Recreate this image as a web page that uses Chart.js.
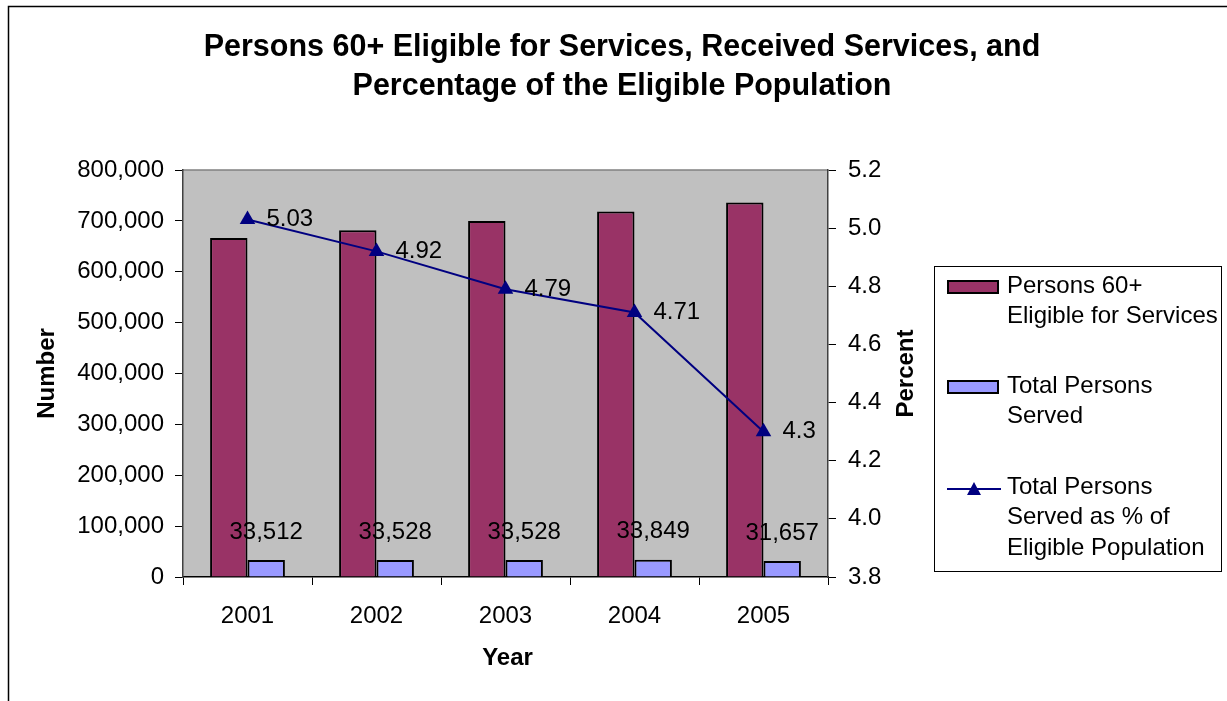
<!DOCTYPE html>
<html>
<head>
<meta charset="utf-8">
<title>Persons 60+ Eligible for Services</title>
<script src="https://cdn.jsdelivr.net/npm/chart.js@4/dist/chart.umd.min.js"></script>
<style>
  html, body { margin: 0; padding: 0; background: #fff; }
  canvas { display: block; }
</style>
</head>
<body>
<canvas id="graphique" width="1227" height="701"></canvas>
<script>
// --- DONNÉES ---
const annees = ['2001', '2002', '2003', '2004', '2005'];
const eligibles = [666242, 681463, 699958, 718662, 736209];
const servis = [33512, 33528, 33528, 33849, 31657];
const pourcentages = [5.03, 4.92, 4.79, 4.71, 4.3];

const titreLignes = ['Persons 60+ Eligible for Services, Received Services, and',
                     'Percentage of the Eligible Population'];
const legendeEligibles = ['Persons 60+', 'Eligible for Services'];
const legendeServis = ['Total Persons', 'Served'];
const legendePourcent = ['Total Persons', 'Served as % of', 'Eligible Population'];

const POLICE = '"Liberation Sans", Arial, sans-serif';
const couleurs = { bordeaux: '#993366', lavande: '#9999ff', marine: '#000080', fond: '#c0c0c0' };

// --- DÉCOR : cadre, fond gris, titres, étiquettes, légende ---
const decor = {
    id: 'decor',
    beforeDraw(chart) {
        const { ctx, chartArea: a } = chart;
        ctx.save();
        ctx.fillStyle = '#fff';
        ctx.fillRect(0, 0, chart.width, chart.height);
        ctx.strokeStyle = '#000';
        ctx.lineWidth = 1.5;
        ctx.beginPath();
        ctx.moveTo(8.5, chart.height);
        ctx.lineTo(8.5, 6.5);
        ctx.lineTo(chart.width, 6.5);
        ctx.stroke();
        ctx.fillStyle = couleurs.fond;
        ctx.fillRect(a.left, a.top, a.right - a.left, a.bottom - a.top);
        ctx.strokeStyle = '#808080';
        ctx.lineWidth = 1.5;
        ctx.beginPath();
        ctx.moveTo(a.left, a.top);
        ctx.lineTo(a.right, a.top);
        ctx.stroke();
        ctx.restore();
    },
    afterDatasetsDraw(chart) {
        const { ctx } = chart;
        ctx.save();
        ctx.fillStyle = '#000';
        ctx.font = '24px ' + POLICE;
        ctx.textBaseline = 'middle';

        // valeurs du pourcentage, à droite des triangles
        const ligne = chart.getDatasetMeta(0);
        ctx.textAlign = 'left';
        ligne.data.forEach((pt, i) => ctx.fillText(String(pourcentages[i]), pt.x + 19, pt.y));

        // nombre de personnes servies, au-dessus des barres bleues
        const barres = chart.getDatasetMeta(2);
        ctx.textAlign = 'center';
        barres.data.forEach((b, i) => ctx.fillText(servis[i].toLocaleString('en-US'), b.x, b.y - 28));
        ctx.restore();
    },
    afterDraw(chart) {
        const { ctx, chartArea: a } = chart;
        ctx.save();
        ctx.fillStyle = '#000';
        ctx.textBaseline = 'middle';
        ctx.textAlign = 'center';

        // titre
        ctx.font = 'bold 30.5px ' + POLICE;
        ctx.fillText(titreLignes[0], 622, 48);
        ctx.fillText(titreLignes[1], 622, 87);

        // titres des axes
        ctx.font = 'bold 24px ' + POLICE;
        ctx.fillText('Year', (a.left + a.right) / 2 + 2, 658);
        const milieu = (a.top + a.bottom) / 2;
        [['Number', 47], ['Percent', 906]].forEach(([txt, x]) => {
            ctx.save();
            ctx.translate(x, milieu);
            ctx.rotate(-Math.PI / 2);
            ctx.fillText(txt, 0, 0);
            ctx.restore();
        });

        // légende
        ctx.strokeStyle = '#000';
        ctx.lineWidth = 1;
        ctx.strokeRect(934.5, 266.5, 287, 305);
        ctx.font = '24px ' + POLICE;
        ctx.textAlign = 'left';
        const entrees = [
            { lignes: legendeEligibles, y: 286, type: 'barre', couleur: couleurs.bordeaux },
            { lignes: legendeServis, y: 386, type: 'barre', couleur: couleurs.lavande },
            { lignes: legendePourcent, y: 487, type: 'ligne', couleur: couleurs.marine }
        ];
        entrees.forEach(e => {
            if (e.type === 'barre') {
                ctx.fillStyle = e.couleur;
                ctx.fillRect(948, e.y - 5, 50, 12);
                ctx.strokeStyle = '#000';
                ctx.lineWidth = 2;
                ctx.strokeRect(948, e.y - 5, 50, 12);
            } else {
                ctx.strokeStyle = e.couleur;
                ctx.lineWidth = 2;
                ctx.beginPath();
                ctx.moveTo(947, e.y + 2);
                ctx.lineTo(1001, e.y + 2);
                ctx.stroke();
                ctx.fillStyle = e.couleur;
                ctx.beginPath();
                ctx.moveTo(974, e.y - 5);
                ctx.lineTo(981, e.y + 8);
                ctx.lineTo(967, e.y + 8);
                ctx.closePath();
                ctx.fill();
            }
            ctx.fillStyle = '#000';
            e.lignes.forEach((l, k) => ctx.fillText(l, 1007, e.y + k * 30.5));
        });
        ctx.restore();
    }
};

// --- GRAPHIQUE ---
const config = {
    type: 'bar',
    data: {
        labels: annees,
        datasets: [
            {
                type: 'line',
                label: 'Total Persons Served as % of Eligible Population',
                data: pourcentages,
                yAxisID: 'y1',
                borderColor: couleurs.marine,
                backgroundColor: couleurs.marine,
                borderWidth: 2,
                pointStyle: 'triangle',
                pointRadius: 9,
                pointBorderWidth: 0,
                tension: 0,
                order: 0
            },
            {
                label: 'Persons 60+ Eligible for Services',
                data: eligibles,
                yAxisID: 'y',
                backgroundColor: couleurs.bordeaux,
                borderColor: '#000',
                borderWidth: 2,
                order: 1
            },
            {
                label: 'Total Persons Served',
                data: servis,
                yAxisID: 'y',
                backgroundColor: couleurs.lavande,
                borderColor: '#000',
                borderWidth: 2,
                order: 2
            }
        ]
    },
    options: {
        responsive: false,
        animation: false,
        layout: { padding: { left: 30, right: 299, top: 170, bottom: 64 } },
        datasets: { bar: { categoryPercentage: 0.58, barPercentage: 1 } },
        plugins: {
            legend: { display: false },
            title: { display: false },
            tooltip: { enabled: false }
        },
        scales: {
            x: {
                grid: { drawOnChartArea: false, tickLength: 8, color: '#000', lineWidth: 1 },
                border: { color: '#000', width: 1.5 },
                ticks: { color: '#000', font: { family: POLICE, size: 24 }, padding: 17 },
                afterFit: s => { s.height = 60; }
            },
            y: {
                position: 'left',
                min: 0, max: 800000,
                grid: { drawOnChartArea: false, tickLength: 8, color: '#000', lineWidth: 1 },
                border: { color: '#404040', width: 1.5 },
                ticks: {
                    stepSize: 100000, color: '#000', padding: 11,
                    font: { family: POLICE, size: 24 },
                    callback: v => v.toLocaleString('en-US')
                },
                afterFit: s => { s.width = 153; }
            },
            y1: {
                position: 'right',
                min: 3.8, max: 5.2,
                grid: { drawOnChartArea: false, tickLength: 8, color: '#000', lineWidth: 1 },
                border: { color: '#404040', width: 1.5 },
                ticks: {
                    stepSize: 0.2, color: '#000', padding: 12,
                    font: { family: POLICE, size: 24 },
                    callback: v => Number(v).toFixed(1)
                },
                afterFit: s => { s.width = 100; }
            }
        }
    },
    plugins: [decor]
};

const graphique = new Chart(document.getElementById('graphique').getContext('2d'), config);
</script>
</body>
</html>
